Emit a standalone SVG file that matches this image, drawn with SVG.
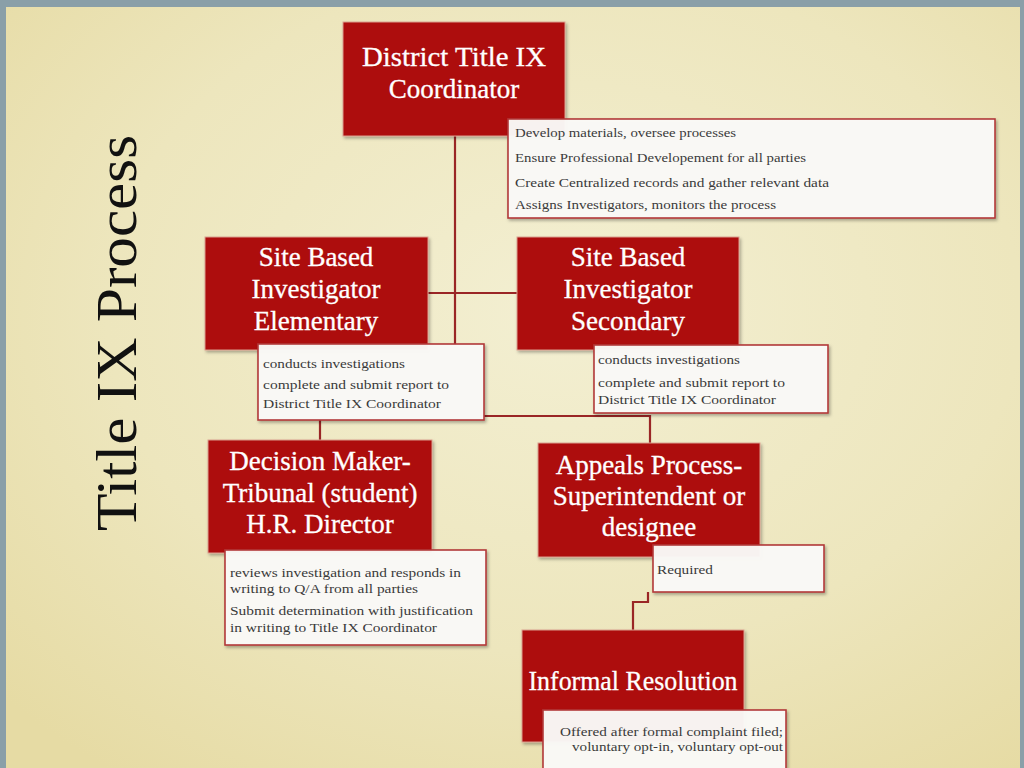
<svg xmlns="http://www.w3.org/2000/svg" width="1024" height="768" viewBox="0 0 1024 768">
<defs>
<radialGradient id="bg" cx="0.55" cy="0.4" r="0.75">
<stop offset="0" stop-color="#f3efd2"/>
<stop offset="0.6" stop-color="#ede6bd"/>
<stop offset="1" stop-color="#e6dba4"/>
</radialGradient>
<filter id="sh" x="-5%" y="-5%" width="115%" height="120%">
<feDropShadow dx="1.5" dy="2" stdDeviation="1.5" flood-color="#000" flood-opacity="0.3"/>
</filter>
<style>
.node{fill:#ad0a0a;stroke:#d9a090;stroke-width:1}
.desc{fill:#fbfaf8;stroke:#b23a3a;stroke-width:1.6;fill-opacity:0.96}
.ht{font-family:"Liberation Serif","DejaVu Serif",serif;font-size:27px;fill:#ffffff;text-anchor:middle;stroke:#ffffff;stroke-width:0.3}
.dt{font-family:"Liberation Serif","DejaVu Serif",serif;font-size:13px;fill:#3a3a3a}
.conn{fill:none;stroke:#9a2626;stroke-width:2.2}
.title{font-family:"Liberation Serif","DejaVu Serif",serif;font-size:58px;fill:#111;text-anchor:middle}
</style>
</defs>
<rect x="0" y="0" width="1024" height="768" fill="#8a9fa8"/>
<rect x="6" y="7" width="1014" height="761" fill="url(#bg)"/>
<text class="title" transform="translate(136,333) rotate(-90)" textLength="396" lengthAdjust="spacingAndGlyphs">Title IX Process</text>

<g id="connectors">
<path class="conn" d="M455,136 V345"/>
<path class="conn" d="M428,293 H517"/>
<path class="conn" d="M320,420 V441"/>
<path class="conn" d="M484,416 H650 V444"/>
<path class="conn" d="M648,592 V602 H633 V631"/>
</g>

<g id="coordinator">
<rect class="node" x="343" y="22" width="222" height="114" filter="url(#sh)"/>
<text class="ht" x="454" y="66" textLength="184" lengthAdjust="spacingAndGlyphs">District Title IX</text>
<text class="ht" x="454" y="98">Coordinator</text>
</g>
<g id="coordinator-desc">
<rect class="desc" x="508" y="119" width="487" height="99" filter="url(#sh)"/>
<text class="dt" x="515" y="137" textLength="221" lengthAdjust="spacingAndGlyphs">Develop materials, oversee processes</text>
<text class="dt" x="515" y="162" textLength="291" lengthAdjust="spacingAndGlyphs">Ensure Professional Developement for all parties</text>
<text class="dt" x="515" y="187" textLength="314" lengthAdjust="spacingAndGlyphs">Create Centralized records and gather relevant data</text>
<text class="dt" x="515" y="209" textLength="261" lengthAdjust="spacingAndGlyphs">Assigns Investigators, monitors the process</text>
</g>

<g id="site-elementary">
<rect class="node" x="205" y="237" width="223" height="113" filter="url(#sh)"/>
<text class="ht" x="316" y="266">Site Based</text>
<text class="ht" x="316" y="298">Investigator</text>
<text class="ht" x="316" y="330">Elementary</text>
</g>
<g id="site-elementary-desc">
<rect class="desc" x="258" y="344" width="226" height="76" filter="url(#sh)"/>
<text class="dt" x="263" y="368" textLength="142" lengthAdjust="spacingAndGlyphs">conducts investigations</text>
<text class="dt" x="263" y="389" textLength="186" lengthAdjust="spacingAndGlyphs">complete and submit report to</text>
<text class="dt" x="263" y="408" textLength="178" lengthAdjust="spacingAndGlyphs">District Title IX Coordinator</text>
</g>

<g id="site-secondary">
<rect class="node" x="517" y="237" width="222" height="113" filter="url(#sh)"/>
<text class="ht" x="628" y="266">Site Based</text>
<text class="ht" x="628" y="298">Investigator</text>
<text class="ht" x="628" y="330">Secondary</text>
</g>
<g id="site-secondary-desc">
<rect class="desc" x="594" y="345" width="234" height="68" filter="url(#sh)"/>
<text class="dt" x="598" y="364" textLength="142" lengthAdjust="spacingAndGlyphs">conducts investigations</text>
<text class="dt" x="598" y="387" textLength="187" lengthAdjust="spacingAndGlyphs">complete and submit report to</text>
<text class="dt" x="598" y="404" textLength="178" lengthAdjust="spacingAndGlyphs">District Title IX Coordinator</text>
</g>

<g id="decision-maker">
<rect class="node" x="208" y="440" width="224" height="113" filter="url(#sh)"/>
<text class="ht" x="320" y="470">Decision Maker-</text>
<text class="ht" x="320" y="502">Tribunal (student)</text>
<text class="ht" x="320" y="533">H.R. Director</text>
</g>
<g id="decision-maker-desc">
<rect class="desc" x="225" y="550" width="261" height="95" filter="url(#sh)"/>
<text class="dt" x="230" y="577" textLength="231" lengthAdjust="spacingAndGlyphs">reviews investigation  and responds in</text>
<text class="dt" x="230" y="593" textLength="188" lengthAdjust="spacingAndGlyphs">writing to Q/A from all parties</text>
<text class="dt" x="230" y="615" textLength="243" lengthAdjust="spacingAndGlyphs">Submit determination with justification</text>
<text class="dt" x="230" y="632" textLength="207" lengthAdjust="spacingAndGlyphs">in writing to Title IX Coordinator</text>
</g>

<g id="appeals">
<rect class="node" x="538" y="443" width="222" height="114" filter="url(#sh)"/>
<text class="ht" x="649" y="474">Appeals Process-</text>
<text class="ht" x="649" y="505">Superintendent or</text>
<text class="ht" x="649" y="536">designee</text>
</g>
<g id="appeals-desc">
<rect class="desc" x="653" y="545" width="171" height="47" filter="url(#sh)"/>
<text class="dt" x="657" y="574" textLength="56" lengthAdjust="spacingAndGlyphs">Required</text>
</g>

<g id="informal-resolution">
<rect class="node" x="522" y="630" width="222" height="112" filter="url(#sh)"/>
<text class="ht" x="633" y="690" textLength="209" lengthAdjust="spacingAndGlyphs">Informal Resolution</text>
</g>
<g id="informal-resolution-desc">
<rect class="desc" x="543" y="710" width="243" height="62" filter="url(#sh)"/>
<text class="dt" x="783" y="736" text-anchor="end" textLength="223" lengthAdjust="spacingAndGlyphs">Offered after formal complaint filed;</text>
<text class="dt" x="783" y="751" text-anchor="end" textLength="211" lengthAdjust="spacingAndGlyphs">voluntary opt-in, voluntary opt-out</text>
</g>
</svg>
